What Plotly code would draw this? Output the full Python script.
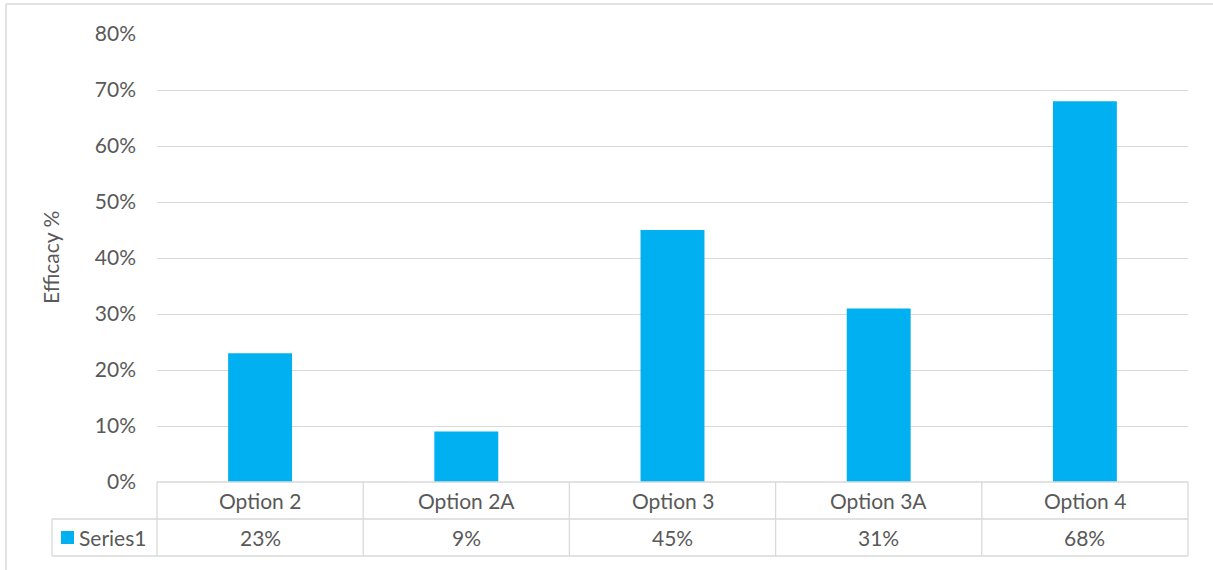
import plotly.graph_objects as go

# Chart data
categories = ["Option 2", "Option 2A", "Option 3", "Option 3A", "Option 4"]
efficacy = [0.23, 0.09, 0.45, 0.31, 0.68]
series_name = "Series1"
y_ticks = [0, 0.1, 0.2, 0.3, 0.4, 0.5, 0.6, 0.7, 0.8]

W, H = 1213, 570
L, R, T, B = 157, 25, 34, 88
PW, PH = W - L - R, H - T - B

BAR = "#00B0F0"
GRID = "#D9D9D9"
TXT = "#595959"
FONT = "Lato"
FS = 21


def px_x(px):
    return (px - L) / PW


def px_y(py):
    return (H - B - py) / PH


fig = go.Figure(go.Bar(
    x=categories, y=efficacy, marker=dict(color=BAR, line=dict(width=0)),
    name=series_name, showlegend=False,
))

shapes = []
annotations = []

def hline(x0, x1, y, color=GRID, w=1.3):
    shapes.append(dict(type="line", xref="paper", yref="paper",
                       x0=px_x(x0), x1=px_x(x1), y0=px_y(y), y1=px_y(y),
                       line=dict(color=color, width=w)))

def vline(x, y0, y1, color=GRID, w=1.3):
    shapes.append(dict(type="line", xref="paper", yref="paper",
                       x0=px_x(x), x1=px_x(x), y0=px_y(y0), y1=px_y(y1),
                       line=dict(color=color, width=w)))

# Data table below the plot
row1_top, row1_bot, row2_bot = 482, 519, 556
left_cell = 52
plot_left, plot_right = L, L + PW
hline(plot_left, plot_right, row1_top)
hline(left_cell, plot_right, row1_bot)
hline(left_cell, plot_right, row2_bot)
vline(left_cell, row1_bot, row2_bot)
n = len(categories)
for i in range(n + 1):
    vline(plot_left + PW * i / n, row1_top, row2_bot)

for i, (cat, val) in enumerate(zip(categories, efficacy)):
    annotations.append(dict(x=cat, xref="x", yref="paper",
                            y=px_y((row1_top + row1_bot) / 2), text=cat,
                            showarrow=False, font=dict(family=FONT, size=FS, color=TXT),
                            xanchor="center", yanchor="middle"))
    annotations.append(dict(x=cat, xref="x", yref="paper",
                            y=px_y((row1_bot + row2_bot) / 2), text=f"{round(val * 100)}%",
                            showarrow=False, font=dict(family=FONT, size=FS, color=TXT),
                            xanchor="center", yanchor="middle"))

# Legend key inside the table
shapes.append(dict(type="rect", xref="paper", yref="paper",
                   x0=px_x(61), x1=px_x(74), y0=px_y(531), y1=px_y(544),
                   fillcolor=BAR, line=dict(width=0)))
annotations.append(dict(x=px_x(77), xref="paper", yref="paper",
                        y=px_y((row1_bot + row2_bot) / 2), text=series_name,
                        showarrow=False, font=dict(family=FONT, size=FS, color=TXT),
                        xanchor="left", yanchor="middle"))

# Axis title
annotations.append(dict(x=px_x(50), xref="paper", yref="paper", y=px_y(258),
                        text="Efficacy %", textangle=-90, showarrow=False,
                        font=dict(family=FONT, size=FS, color=TXT),
                        xanchor="center", yanchor="middle"))

# Chart area border (top and left edges)
shapes.append(dict(type="line", xref="paper", yref="paper",
                   x0=px_x(6), x1=px_x(W + 5), y0=px_y(4), y1=px_y(4),
                   line=dict(color=GRID, width=1.5)))
shapes.append(dict(type="line", xref="paper", yref="paper",
                   x0=px_x(6), x1=px_x(6), y0=px_y(4), y1=px_y(H + 5),
                   line=dict(color=GRID, width=1.5)))

fig.update_layout(
    width=W, height=H,
    margin=dict(l=L, r=R, t=T, b=B),
    paper_bgcolor="white", plot_bgcolor="white",
    bargap=0.69,
    shapes=shapes, annotations=annotations,
    xaxis=dict(showticklabels=False, showgrid=False, zeroline=False,
               showline=False, ticks=""),
    yaxis=dict(range=[0, 0.8], tickvals=y_ticks, tickformat=".0%",
               showgrid=True, gridcolor=GRID, gridwidth=1.3,
               zeroline=False, showline=False, ticks="",
               ticklabelstandoff=20,
               tickfont=dict(family=FONT, size=FS, color=TXT)),
    font=dict(family=FONT, color=TXT),
)

fig.write_html("out.html")
